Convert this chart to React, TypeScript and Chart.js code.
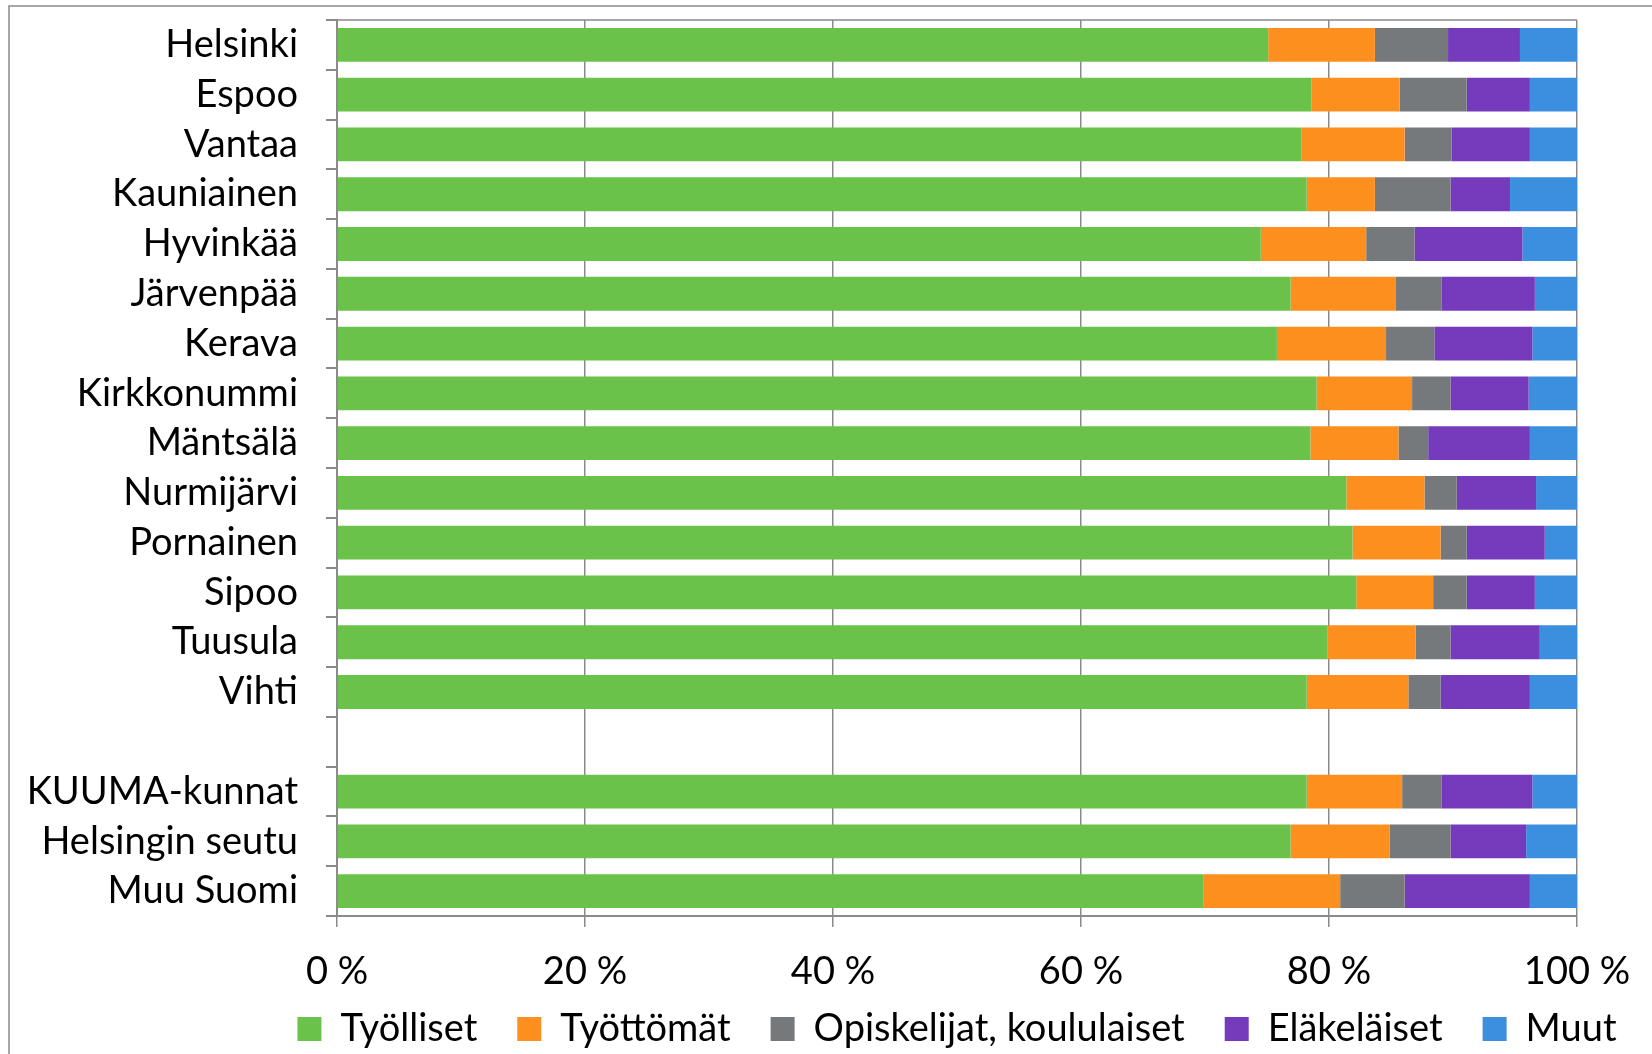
import React, { useEffect, useRef } from "react";
import { Chart, registerables } from "chart.js";

Chart.register(...registerables);

const categories = [
  "Helsinki", "Espoo", "Vantaa", "Kauniainen", "Hyvinkää", "Järvenpää", "Kerava",
  "Kirkkonummi", "Mäntsälä", "Nurmijärvi", "Pornainen", "Sipoo", "Tuusula", "Vihti",
  "", "KUUMA-kunnat", "Helsingin seutu", "Muu Suomi",
];

const tyolliset = [75.1, 78.6, 77.8, 78.2, 74.5, 76.9, 75.8, 79.0, 78.5, 81.4, 81.9, 82.2, 79.9, 78.2, null, 78.2, 76.9, 69.9];
const tyottomat = [8.6, 7.1, 8.3, 5.5, 8.5, 8.5, 8.8, 7.7, 7.1, 6.3, 7.1, 6.2, 7.1, 8.2, null, 7.7, 8.0, 11.0];
const opiskelijat = [5.9, 5.4, 3.8, 6.1, 3.9, 3.7, 3.9, 3.1, 2.4, 2.6, 2.1, 2.7, 2.8, 2.6, null, 3.2, 4.9, 5.2];
const elakelaiset = [5.8, 5.1, 6.3, 4.8, 8.7, 7.5, 7.9, 6.3, 8.2, 6.4, 6.3, 5.5, 7.2, 7.2, null, 7.3, 6.1, 10.1];
const muut = [4.6, 3.8, 3.8, 5.4, 4.4, 3.4, 3.6, 3.9, 3.8, 3.3, 2.6, 3.4, 3.0, 3.8, null, 3.6, 4.1, 3.8];

const seriesNames = ["Työlliset", "Työttömät", "Opiskelijat, koululaiset", "Eläkeläiset", "Muut"];
const seriesColors = ["#6BC24B", "#FD8F1F", "#76797C", "#753BBC", "#3C8FDE"];
const xTicks = [0, 20, 40, 60, 80, 100];

const FONT = "Lato, 'Open Sans', 'DejaVu Sans', sans-serif";
const AXIS_GRAY = "#8a8a8a";

const decorPlugin = {
  id: "decor",
  beforeDraw(chart: any) {
    const { ctx } = chart;
    ctx.save();
    ctx.fillStyle = "#ffffff";
    ctx.fillRect(0, 0, chart.width, chart.height);
    ctx.strokeStyle = AXIS_GRAY;
    ctx.lineWidth = 1.5;
    ctx.beginPath();
    ctx.moveTo(9, chart.height);
    ctx.lineTo(9, 6);
    ctx.lineTo(chart.width, 6);
    ctx.stroke();
    ctx.restore();
  },
  beforeDatasetsDraw(chart: any) {
    const { ctx, chartArea } = chart;
    ctx.save();
    ctx.strokeStyle = AXIS_GRAY;
    ctx.lineWidth = 1.5;
    ctx.beginPath();
    ctx.moveTo(chartArea.left, chartArea.top);
    ctx.lineTo(chartArea.right, chartArea.top);
    ctx.stroke();
    ctx.restore();
  },
  afterLayout(chart: any) {
    const lg = chart.legend;
    if (!lg) return;
    const ca = chart.chartArea;
    const center = (ca.left + ca.right) / 2;
    const w = lg.right - lg.left;
    const h = lg.bottom - lg.top;
    lg.left = center - w / 2;
    lg.right = center + w / 2;
    lg.top = 970;
    lg.bottom = lg.top + h;
  },
};

export default function App() {
  const ref = useRef<HTMLCanvasElement | null>(null);

  useEffect(() => {
    if (!ref.current) return;
    const data = [tyolliset, tyottomat, opiskelijat, elakelaiset, muut];
    const chart = new Chart(ref.current, {
      type: "bar",
      data: {
        labels: categories,
        datasets: seriesNames.map((name, i) => ({
          label: name,
          data: data[i] as any,
          backgroundColor: seriesColors[i],
          borderWidth: 0,
          barPercentage: 0.68,
          categoryPercentage: 1,
        })),
      },
      options: {
        indexAxis: "y",
        responsive: false,
        animation: false,
        devicePixelRatio: 1,
        layout: { padding: { top: 20, right: 75, left: 0, bottom: -30 } },
        plugins: {
          tooltip: { enabled: false },
          legend: {
            position: "bottom",
            labels: {
              boxWidth: 24,
              boxHeight: 24,
              padding: 40,
              color: "#000",
              font: { family: FONT, size: 38 },
            },
          },
        },
        scales: {
          x: {
            stacked: true,
            min: 0,
            max: 100,
            afterBuildTicks(scale: any) {
              scale.ticks = xTicks.map((v) => ({ value: v }));
            },
            afterFit(scale: any) {
              scale.height = 80;
              scale.paddingLeft = 0;
              scale.paddingRight = 0;
            },
            ticks: {
              color: "#000",
              font: { family: FONT, size: 38 },
              padding: 22,
              maxRotation: 0,
              callback: (v: any) => `${v} %`,
            },
            grid: { color: AXIS_GRAY, lineWidth: 1.5, tickLength: 11, drawTicks: true },
            border: { color: AXIS_GRAY, width: 2 },
          },
          y: {
            stacked: true,
            afterFit(scale: any) {
              scale.width = 337;
              scale.paddingTop = 0;
              scale.paddingBottom = 0;
            },
            ticks: {
              color: "#000",
              font: { family: FONT, size: 38 },
              padding: 28,
              autoSkip: false,
            },
            grid: {
              color: AXIS_GRAY,
              lineWidth: 2,
              tickLength: 11,
              drawOnChartArea: false,
              drawTicks: true,
              offset: true,
            },
            border: { color: AXIS_GRAY, width: 2 },
          },
        },
      },
      plugins: [decorPlugin],
    } as any);
    return () => chart.destroy();
  }, []);

  return (
    <div style={{ position: "absolute", left: 0, top: 0, width: 1652, height: 1054 }}>
      <canvas ref={ref} width={1652} height={1054} style={{ display: "block" }} />
    </div>
  );
}
